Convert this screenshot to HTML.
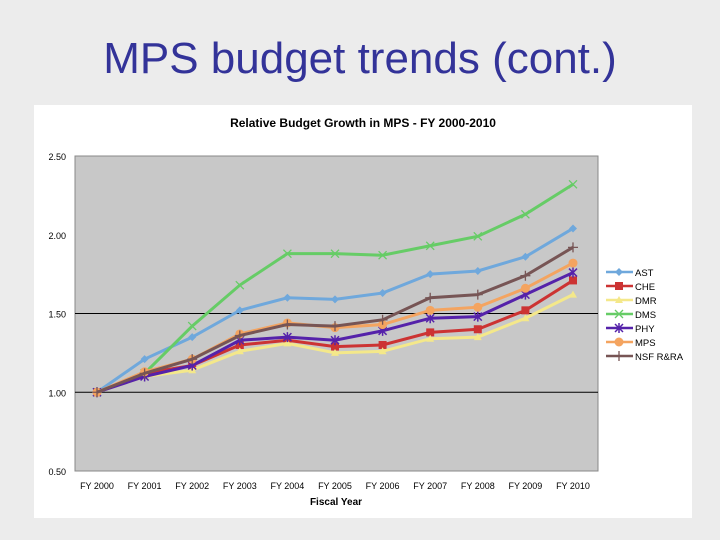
<!DOCTYPE html>
<html><head><meta charset="utf-8"><style>
body{margin:0;background:#ececec;width:720px;height:540px;overflow:hidden;font-family:"Liberation Sans","DejaVu Sans",sans-serif}
#title{position:absolute;left:0;width:720px;top:34px;text-align:center;font-size:44px;color:#333399}
svg{position:absolute;left:0;top:0}
</style></head><body>
<div id="title">MPS budget trends (cont.)</div>
<svg id="c" width="720" height="540"></svg>
<script>
const categories=["FY 2000","FY 2001","FY 2002","FY 2003","FY 2004","FY 2005","FY 2006","FY 2007","FY 2008","FY 2009","FY 2010"];
const yTicks=[0.5,1.0,1.5,2.0,2.5];
const seriesNames=["AST","CHE","DMR","DMS","PHY","MPS","NSF R&RA"];
const seriesColors=["#6fa8dc","#cc3333","#f4e88a","#66cc66","#5522aa","#f4a460","#775555"];
const AST=[1.00,1.21,1.35,1.52,1.60,1.59,1.63,1.75,1.77,1.86,2.04];
const CHE=[1.00,1.12,1.17,1.30,1.33,1.29,1.30,1.38,1.40,1.52,1.71];
const DMR=[1.00,1.10,1.14,1.26,1.31,1.25,1.26,1.34,1.35,1.47,1.62];
const DMS=[1.00,1.12,1.42,1.68,1.88,1.88,1.87,1.93,1.99,2.13,2.32];
const PHY=[1.00,1.10,1.17,1.33,1.35,1.33,1.39,1.47,1.48,1.62,1.76];
const MPS=[1.00,1.13,1.21,1.37,1.44,1.41,1.43,1.52,1.54,1.66,1.82];
const NSF=[1.00,1.12,1.21,1.36,1.43,1.42,1.46,1.60,1.62,1.74,1.92];
const seriesData=[AST,CHE,DMR,DMS,PHY,MPS,NSF];
const NS="http://www.w3.org/2000/svg";
const svg=document.getElementById('c');
function mk(t,a,p){const e=document.createElementNS(NS,t);for(const k in a)e.setAttribute(k,a[k]);(p||svg).appendChild(e);return e;}
const L=75,R=598,T=156,B=471,x0=97,dx=47.6;
const xs=i=>x0+i*dx;
const ys=v=>B-(v-0.5)/2*(B-T);
let e;
e=mk('rect',{x:34,y:105,width:658,height:413,fill:'#fff'});


e=mk('rect',{x:L,y:T,width:R-L,height:B-T,fill:'#c8c8c8',stroke:'#888','stroke-width':1});


e=mk('text',{x:363,y:127,'text-anchor':'middle','font-size':12,'font-weight':'bold',fill:'#000'});
e.textContent='Relative Budget Growth in MPS - FY 2000-2010';


[1.0,1.5].forEach(v=>{const g=mk('line',{x1:L,x2:R,y1:ys(v),y2:ys(v),stroke:'#000','stroke-width':1});

});
yTicks.forEach(v=>{const t=mk('text',{x:66,y:ys(v)+4,'text-anchor':'end','font-size':9,fill:'#000'});t.textContent=v.toFixed(2);

});
categories.forEach((c,i)=>{const t=mk('text',{x:xs(i),y:489,'text-anchor':'middle','font-size':9,fill:'#000'});t.textContent=c;

});
e=mk('text',{x:336,y:505,'text-anchor':'middle','font-size':10,'font-weight':'bold'});e.textContent='Fiscal Year';


function marker(k,x,y,c,g){
 if(k==0)mk('path',{d:`M${x} ${y-4}L${x+4} ${y}L${x} ${y+4}L${x-4} ${y}Z`,fill:c},g);
 else if(k==1)mk('rect',{x:x-4,y:y-4,width:8,height:8,fill:c},g);
 else if(k==2)mk('path',{d:`M${x} ${y-4}L${x+4} ${y+3}L${x-4} ${y+3}Z`,fill:c},g);
 else if(k==3)mk('path',{d:`M${x-4} ${y-4}L${x+4} ${y+4}M${x+4} ${y-4}L${x-4} ${y+4}`,stroke:c,'stroke-width':1.3},g);
 else if(k==4)mk('path',{d:`M${x-4} ${y-4}L${x+4} ${y+4}M${x+4} ${y-4}L${x-4} ${y+4}M${x} ${y-5}L${x} ${y+5}`,stroke:c,'stroke-width':1.5},g);
 else if(k==5)mk('circle',{cx:x,cy:y,r:4.5,fill:c},g);
 else mk('path',{d:`M${x-5} ${y}L${x+5} ${y}M${x} ${y-5}L${x} ${y+5}`,stroke:c,'stroke-width':1.3},g);
}
seriesData.forEach((d,s)=>{
 const g=mk('g',{});
 
 
 mk('polyline',{points:d.map((v,i)=>xs(i)+','+ys(v)).join(' '),fill:'none',stroke:seriesColors[s],'stroke-width':3},g);
 d.forEach((v,i)=>marker(s,xs(i),ys(v),seriesColors[s],g));
});
seriesNames.forEach((n,s)=>{
 const y=272+s*14;
 const g=mk('g',{});
 
 
 mk('line',{x1:606,x2:633,y1:y,y2:y,stroke:seriesColors[s],'stroke-width':2.5},g);
 marker(s,619,y,seriesColors[s],g);
 const t=mk('text',{x:635,y:y+4,'font-size':9.5,fill:'#000'},g);t.textContent=n;
});
</script>
</body></html>
